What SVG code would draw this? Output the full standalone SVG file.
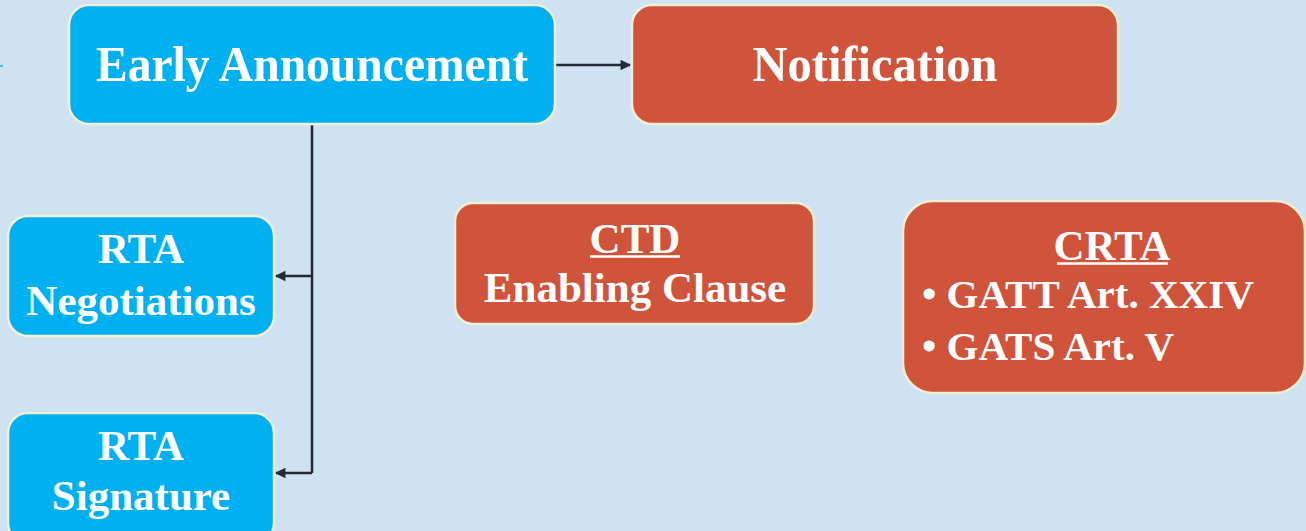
<svg xmlns="http://www.w3.org/2000/svg" width="1306" height="531" viewBox="0 0 1306 531">
  <defs>
    <marker id="arrow" viewBox="0 0 10 10" refX="9" refY="5" markerWidth="4.6" markerHeight="4.2" orient="auto" markerUnits="strokeWidth">
      <path d="M0,0 L10,5 L0,10 Z" fill="#262a35"/>
    </marker>
    <style>
      .blue { fill: #00b0f0; stroke: #f3efd2; stroke-width: 2.5; }
      .red { fill: #d0543b; stroke: #f3efd2; stroke-width: 2.5; }
      .title { font-family: "Liberation Serif", "Times New Roman", serif; font-weight: bold; font-size: 51px; fill: #ffffff; text-anchor: middle; }
      .label { font-family: "Liberation Serif", "Times New Roman", serif; font-weight: bold; font-size: 43px; fill: #ffffff; text-anchor: middle; }
      .item { font-family: "Liberation Serif", "Times New Roman", serif; font-weight: bold; font-size: 41px; fill: #ffffff; }
      .edge { fill: none; stroke: #262a35; stroke-width: 2.5; }
      .rule { stroke: #ffffff; stroke-width: 2.5; }
    </style>
  </defs>

  <rect width="1306" height="531" fill="#cee2f2"/>
  <line x1="0" y1="66" x2="3" y2="66" stroke="#1aafbf" stroke-width="1.5"/>

  <g id="connectors">
    <line class="edge" x1="555" y1="65" x2="630" y2="65" marker-end="url(#arrow)"/>
    <polyline class="edge" points="312,124 312,473"/>
    <line class="edge" x1="312" y1="276" x2="276" y2="276" marker-end="url(#arrow)"/>
    <line class="edge" x1="312" y1="473" x2="276" y2="473" marker-end="url(#arrow)"/>
  </g>

  <g id="early-announcement">
    <rect class="blue" x="69" y="5" width="486" height="119" rx="20"/>
    <text class="title" x="312" y="81" textLength="432" lengthAdjust="spacingAndGlyphs">Early Announcement</text>
  </g>

  <g id="notification">
    <rect class="red" x="632" y="5" width="486" height="119" rx="20"/>
    <text class="title" x="875" y="81" textLength="245" lengthAdjust="spacingAndGlyphs">Notification</text>
  </g>

  <g id="rta-negotiations">
    <rect class="blue" x="8" y="216" width="266" height="120" rx="20"/>
    <text class="label" x="141" y="263">RTA</text>
    <text class="label" x="141" y="315">Negotiations</text>
  </g>

  <g id="rta-signature">
    <rect class="blue" x="8" y="413" width="266" height="130" rx="20"/>
    <text class="label" x="141" y="460">RTA</text>
    <text class="label" x="141" y="510">Signature</text>
  </g>

  <g id="ctd">
    <rect class="red" x="455" y="203" width="359" height="121" rx="18"/>
    <text class="label" x="635" y="253">CTD</text>
    <line class="rule" x1="590" y1="256.5" x2="680" y2="256.5"/>
    <text class="label" x="635" y="302">Enabling Clause</text>
  </g>

  <g id="crta">
    <rect class="red" x="903" y="201" width="402" height="192" rx="30"/>
    <text class="label" x="1112" y="260">CRTA</text>
    <line class="rule" x1="1057" y1="263.5" x2="1168" y2="263.5"/>
    <text class="item" x="922" y="308">• GATT Art. XXIV</text>
    <text class="item" x="922" y="360">• GATS Art. V</text>
  </g>
</svg>
